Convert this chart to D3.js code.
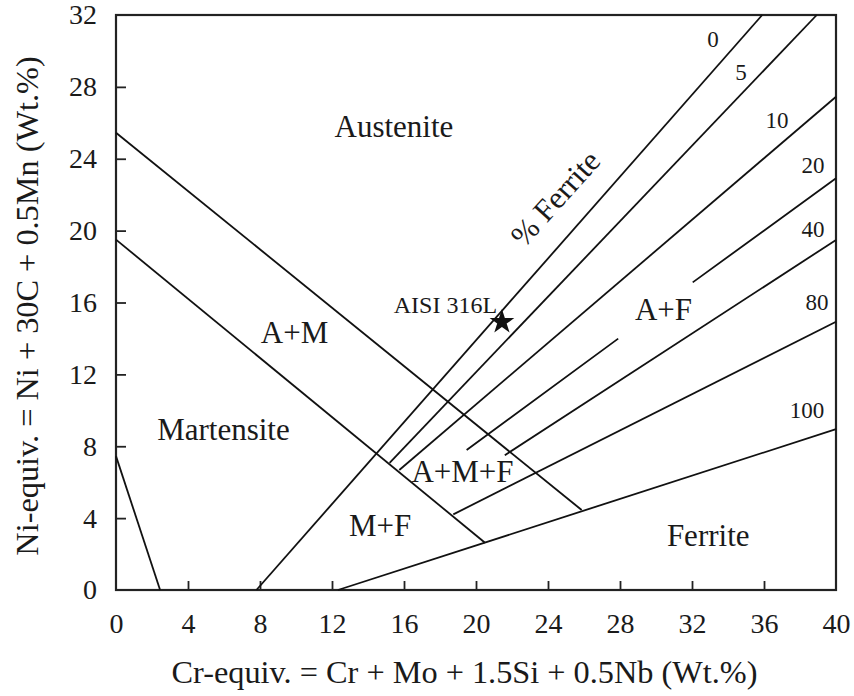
<!DOCTYPE html>
<html>
<head>
<meta charset="utf-8">
<script src="https://cdn.jsdelivr.net/npm/d3@7"></script>
<style>
  html, body { margin: 0; padding: 0; background: #fff; }
  svg { display: block; }
  text { font-family: "Liberation Serif", "Times New Roman", serif; fill: #1a1a1a; }
</style>
</head>
<body>
<svg id="chart" width="854" height="696"></svg>
<script>
// ---------- data ----------
const xTicks = [0, 4, 8, 12, 16, 20, 24, 28, 32, 36, 40];
const yTicks = [0, 4, 8, 12, 16, 20, 24, 28, 32];

const austeniteBoundary = [[0, 25.45], [25.87, 4.45]];
const martensiteBoundary = [[0, 19.5], [20.5, 2.63]];
const cornerBoundary = [[0, 7.45], [2.45, 0]];

const ferriteLevels = ["0", "5", "10", "20", "40", "80", "100"];
const ferriteLines = [
  [[7.8, 0], [35.9, 32]],
  [[15.2, 7.08], [38.93, 32]],
  [[15.74, 6.68], [40, 27.45]],
  [[19.48, 7.79], [27.9, 13.99], null, [32.04, 17.12], [40, 22.91]],
  [[21.6, 7.5], [40, 19.48]],
  [[18.74, 4.21], [40, 14.93]],
  [[12.33, 0], [40, 8.95]]
];
const ferriteLabelPos = [
  [33.17, 30.22], [34.72, 28.38], [36.72, 25.71], [38.72, 23.2],
  [38.72, 19.64], [38.94, 15.58], [38.39, 9.57]
];

const regionNames = ["Austenite", "A+M", "Martensite", "A+F", "A+M+F", "M+F", "Ferrite"];
const regionPos = [
  [15.44, 25.2], [9.92, 13.74], [5.97, 8.35], [30.42, 15.03],
  [19.25, 6.01], [14.67, 3.0], [32.9, 2.45]
];

const alloyName = "AISI 316L";
const alloyPoint = [21.44, 14.91];
const alloyLabelPos = [21.17, 15.41];

const ferriteTitle = "% Ferrite";
const ferriteTitlePos = [24.39, 21.81];

const xTitle = "Cr-equiv. = Cr + Mo + 1.5Si + 0.5Nb (Wt.%)";
const yTitle = "Ni-equiv. = Ni + 30C + 0.5Mn (Wt.%)";

// ---------- layout ----------
const svg = d3.select("#chart");
const mLeft = 116, mRight = 836, mTop = 15, mBottom = 590;

const x = d3.scaleLinear().domain([0, 40]).range([mLeft, mRight]);
const y = d3.scaleLinear().domain([0, 32]).range([mBottom, mTop]);

const line = d3.line().defined(d => d !== null).x(d => x(d[0])).y(d => y(d[1]));

// axes
const xAxis = d3.axisBottom(x).tickValues(xTicks).tickSize(-9).tickPadding(23);
const yAxis = d3.axisLeft(y).tickValues(yTicks).tickSize(-10).tickPadding(19);

const gx = svg.append("g").attr("transform", `translate(0,${mBottom})`).call(xAxis);
const gy = svg.append("g").attr("transform", `translate(${mLeft},0)`).call(yAxis);
[gx, gy].forEach(g => {
  g.select(".domain").remove();
  g.selectAll(".tick line").attr("stroke", "#222").attr("stroke-width", 1.8);
  g.selectAll(".tick text").attr("font-size", 28).attr("font-family", "Liberation Serif").attr("fill", "#1a1a1a");
});
gx.selectAll(".tick").filter(d => d === 0 || d === 40).select("line").remove();
gy.selectAll(".tick").filter(d => d === 0 || d === 32).select("line").remove();

// frame
svg.append("rect")
  .attr("x", mLeft).attr("y", mTop)
  .attr("width", mRight - mLeft).attr("height", mBottom - mTop)
  .attr("fill", "none").attr("stroke", "#222").attr("stroke-width", 2.2);

// boundary lines
const lineG = svg.append("g").attr("fill", "none").attr("stroke", "#111").attr("stroke-width", 1.8);
[austeniteBoundary, martensiteBoundary, cornerBoundary].forEach(pts => {
  lineG.append("path").attr("d", line(pts));
});
ferriteLines.forEach(pts => {
  lineG.append("path").attr("d", line(pts));
});

// ferrite level labels
svg.append("g").selectAll("text").data(ferriteLevels).join("text")
  .attr("x", (d, i) => x(ferriteLabelPos[i][0]))
  .attr("y", (d, i) => y(ferriteLabelPos[i][1]))
  .attr("text-anchor", "middle")
  .attr("font-size", 23)
  .text(d => d);

// region labels
svg.append("g").selectAll("text").data(regionNames).join("text")
  .attr("x", (d, i) => x(regionPos[i][0]))
  .attr("y", (d, i) => y(regionPos[i][1]))
  .attr("text-anchor", "middle")
  .attr("font-size", 31)
  .text(d => d);

// % Ferrite rotated
svg.append("text")
  .attr("transform", `translate(${x(ferriteTitlePos[0])},${y(ferriteTitlePos[1])}) rotate(-48)`)
  .attr("text-anchor", "middle")
  .attr("dy", "0.35em")
  .attr("font-size", 31)
  .text(ferriteTitle);

// alloy point
svg.append("text")
  .attr("x", x(alloyLabelPos[0])).attr("y", y(alloyLabelPos[1]))
  .attr("text-anchor", "end")
  .attr("font-size", 24)
  .text(alloyName);
svg.append("path")
  .attr("d", d3.symbol().type(d3.symbolStar).size(190)())
  .attr("transform", `translate(${x(alloyPoint[0])},${y(alloyPoint[1])})`)
  .attr("fill", "#111");

// axis titles
svg.append("text")
  .attr("x", 464.5).attr("y", 683)
  .attr("text-anchor", "middle")
  .attr("font-size", 32.3)
  .text(xTitle);
svg.append("text")
  .attr("transform", "translate(38,306) rotate(-90)")
  .attr("text-anchor", "middle")
  .attr("font-size", 32.3)
  .text(yTitle);
</script>
</body>
</html>
